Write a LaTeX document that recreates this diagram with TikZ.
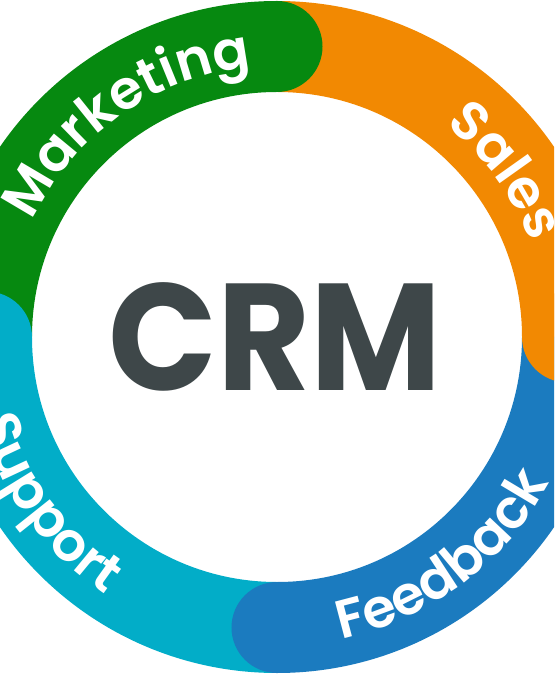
\documentclass[tikz,border=0pt]{standalone}
\usepackage{fontspec}
\setmainfont{Poppins}
\newfontfamily\lblfam{Poppins SemiBold}
\usetikzlibrary{decorations.text}
\definecolor{mkt}{RGB}{6,137,16}
\definecolor{sal}{RGB}{242,137,2}
\definecolor{fdb}{RGB}{27,123,191}
\definecolor{sup}{RGB}{2,173,200}
\definecolor{crmgray}{RGB}{62,71,73}
\newcommand\lblfont{\lblfam\fontsize{54}{54}\selectfont}
\begin{document}
\begin{tikzpicture}[x=1pt,y=1pt,
  band/.style={line width=91pt, line cap=butt},
  capdisc/.style={radius=45.5},
  ringlabel/.style={decorate, decoration={text along path, text align=center, text color=white, text={|\lblfont|#1}}}
]
\useasboundingbox (-277,-337) rectangle (277,337);
\clip (-277,-337) rectangle (277,337);
% ring segments
\draw[band, mkt] (180:290.5) arc (180:90:290.5);
\draw[band, sal] (90:290.5) arc (90:0:290.5);
\draw[band, fdb] (0:290.5) arc (0:-90:290.5);
\draw[band, sup] (270:290.5) arc (270:180:290.5);
% rounded heads
\fill[mkt] (90:290.5) circle[capdisc];
\fill[sal] (0:290.5) circle[capdisc];
\fill[fdb] (270:290.5) circle[capdisc];
\fill[sup] (180:290.5) circle[capdisc];
% labels
\path[ringlabel=Marketing] (185:271) arc (185:65:271);
\path[ringlabel=Sales] (96:271) arc (96:-24:271);
\path[ringlabel=Feedback] (-113:309) arc (-113:7:309);
\path[ringlabel=Support] (156:309) arc (156:276:309);
% centre
\node[inner sep=0pt, text=crmgray, xscale=0.94, font=\fontsize{152}{152}\selectfont\bfseries] (crm) at (-2,0) {CRM};
\end{tikzpicture}
\end{document}
